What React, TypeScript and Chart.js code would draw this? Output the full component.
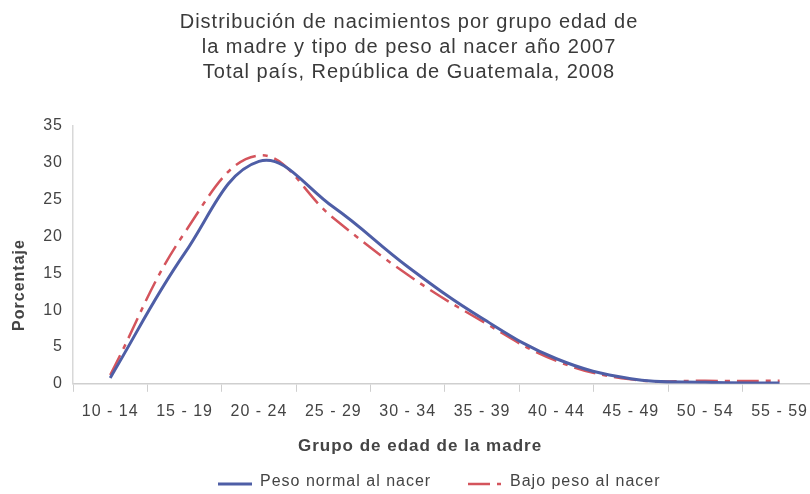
import React, { useEffect, useRef } from "react";
import { Chart, registerables } from "chart.js";

Chart.register(...registerables);

const categories = ["10 - 14", "15 - 19", "20 - 24", "25 - 29", "30 - 34", "35 - 39", "40 - 44", "45 - 49", "50 - 54", "55 - 59"];
const pesoNormal = [0.8, 17.7, 30.2, 24.0, 15.9, 8.9, 3.4, 0.7, 0.2, 0.1];
const bajoPeso = [1.2, 20.5, 31.0, 22.5, 14.8, 8.5, 3.1, 0.6, 0.4, 0.4];
const seriesNames = ["Peso normal al nacer", "Bajo peso al nacer"];
const xTitle = "Grupo de edad de la madre";
const yTitle = "Porcentaje";
const titleLines = [
  "Distribución de nacimientos por grupo edad de",
  "la madre y tipo de peso al nacer año 2007",
  "Total país, República de Guatemala, 2008",
];

const FONT = "'Liberation Sans', Arial, Helvetica, sans-serif";
const BLUE = "#4e5ea6";
const RED = "#d4545c";
const RED_DASH = [22, 7, 5, 7];

const spacingPlugin = {
  id: "letterSpacing",
  beforeInit(chart: any) {
    chart.ctx.letterSpacing = "1px";
  },
  beforeUpdate(chart: any) {
    chart.ctx.letterSpacing = "1px";
  },
  beforeDraw(chart: any) {
    chart.ctx.letterSpacing = "1px";
  },
};

const labelsPlugin = {
  id: "customLabels",
  afterDraw(chart: any) {
    const ctx = chart.ctx as CanvasRenderingContext2D;
    ctx.save();
    (ctx as any).letterSpacing = "1px";
    ctx.fillStyle = "#444";
    ctx.textBaseline = "middle";
    // x axis title
    ctx.font = `bold 17px ${FONT}`;
    ctx.textAlign = "center";
    ctx.fillText(xTitle, 420, 446);
    // y axis title
    ctx.save();
    ctx.translate(20, 285);
    ctx.rotate(-Math.PI / 2);
    ctx.font = `bold 16px ${FONT}`;
    ctx.fillText(yTitle, 0, 0);
    ctx.restore();
    // legend
    ctx.font = `16px ${FONT}`;
    ctx.textAlign = "left";
    ctx.lineCap = "butt";
    ctx.strokeStyle = BLUE;
    ctx.lineWidth = 3;
    ctx.beginPath();
    ctx.moveTo(218, 484);
    ctx.lineTo(252, 484);
    ctx.stroke();
    ctx.fillText(seriesNames[0], 260, 482);
    ctx.strokeStyle = RED;
    ctx.lineWidth = 2.5;
    ctx.setLineDash(RED_DASH);
    ctx.beginPath();
    ctx.moveTo(468, 484);
    ctx.lineTo(501, 484);
    ctx.stroke();
    ctx.setLineDash([]);
    ctx.fillText(seriesNames[1], 510, 482);
    ctx.restore();
  },
};

export default function App() {
  const ref = useRef<HTMLCanvasElement | null>(null);
  useEffect(() => {
    document.body.style.margin = "0";
    document.body.style.overflow = "hidden";
    Chart.defaults.font.family = FONT;
    const chart = new Chart(ref.current!, {
      type: "line",
      plugins: [spacingPlugin, labelsPlugin],
      data: {
        labels: categories,
        datasets: [
          {
            label: seriesNames[0],
            data: pesoNormal,
            borderColor: BLUE,
            backgroundColor: BLUE,
            borderWidth: 3,
            tension: 0.4,
            pointRadius: 0,
            fill: false,
          },
          {
            label: seriesNames[1],
            data: bajoPeso,
            borderColor: RED,
            backgroundColor: RED,
            borderWidth: 2.5,
            borderDash: RED_DASH,
            tension: 0.4,
            pointRadius: 0,
            fill: false,
          },
        ],
      },
      options: {
        responsive: false,
        animation: false,
        layout: { padding: { left: 0, right: 0, top: 0, bottom: 63 } },
        plugins: {
          title: {
            display: true,
            text: titleLines,
            color: "#3a3a3a",
            font: { size: 20, weight: "normal", lineHeight: 1.25 },
            padding: { top: 10, bottom: 41 },
          },
          legend: { display: false },
          tooltip: { enabled: false },
        },
        scales: {
          x: {
            offset: true,
            grid: {
              offset: true,
              drawOnChartArea: false,
              drawTicks: true,
              tickLength: 8,
              color: "#cfcfcf",
            },
            border: { display: true, color: "#cfcfcf", width: 1.5 },
            ticks: { color: "#444", font: { size: 16 }, padding: 10, maxRotation: 0, autoSkip: false },
          },
          y: {
            min: 0,
            max: 35,
            ticks: { stepSize: 5, color: "#444", font: { size: 16 }, padding: 10 },
            grid: { display: false, drawTicks: false },
            border: { display: true, color: "#d8d8d8", width: 1.5 },
            afterFit: (scale: any) => {
              scale.width = 73;
            },
          },
        },
      },
    });
    return () => chart.destroy();
  }, []);
  return <canvas ref={ref} width={818} height={494} style={{ display: "block" }} />;
}
